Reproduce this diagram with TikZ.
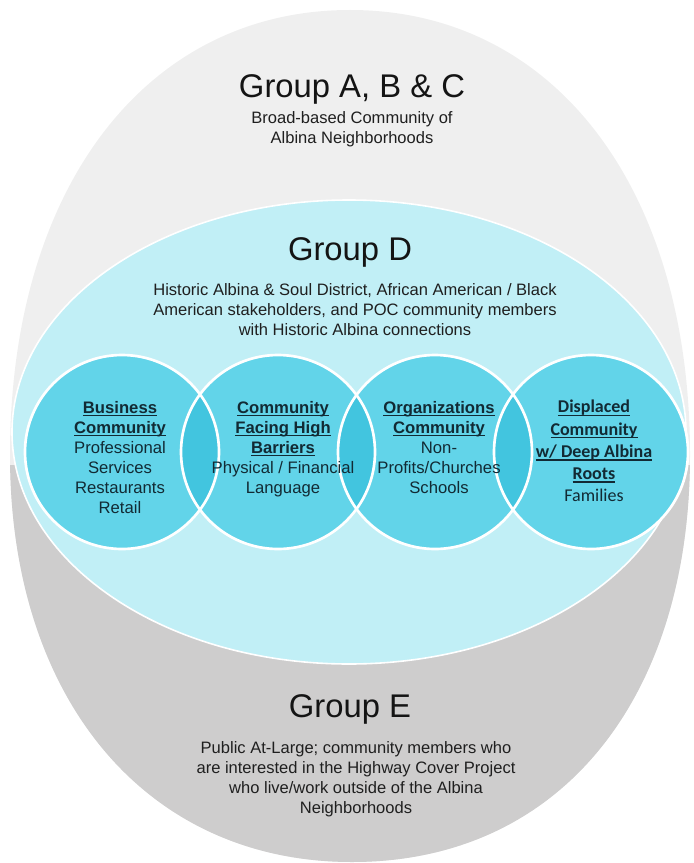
\documentclass[tikz,border=0pt]{standalone}
\usepackage{fontspec}
\setmainfont{Liberation Sans}
\newfontfamily\calfont{Carlito}
\newcommand\ulword[1]{\setbox0\hbox{#1}\rlap{\rule[-2.3pt]{\wd0}{1pt}}\box0}
\definecolor{eggtop}{RGB}{239,239,239}
\definecolor{eggbot}{RGB}{206,205,205}
\definecolor{groupd}{RGB}{193,239,246}
\definecolor{circfill}{RGB}{98,212,233}
\definecolor{circover}{RGB}{66,197,223}
\definecolor{circtext}{RGB}{18,42,52}

\begin{document}
\begin{tikzpicture}[x=0.75pt,y=-0.75pt,
    grouptitle/.style={font=\fontsize{24.6}{28}\selectfont,text=black!92,anchor=base,inner sep=0pt},
    groupblurb/.style={font=\fontsize{12.4}{15}\selectfont,text=black!88,align=center,anchor=north,inner sep=0pt},
    circblurb/.style={font=\fontsize{12.5}{15}\selectfont,text=circtext,align=center,anchor=north,inner sep=0pt}]
  \useasboundingbox (0,0) rectangle (693,863);
  % outer egg, light top and darker bottom
  \fill[eggtop] (10,455) .. controls (10,188) and (146,10) .. (350,10)
      .. controls (554,10) and (690,188) .. (690,455)
      .. controls (690,699) and (560,862) .. (352,862)
      .. controls (146,862) and (10,699) .. (10,455) -- cycle;
  \begin{scope}
    \clip (10,455) .. controls (10,699) and (146,862) .. (352,862)
        .. controls (560,862) and (690,699) .. (690,455) -- cycle;
    \fill[eggbot] (0,465) rectangle (693,863);
  \end{scope}
  % group D
  \coordinate (dmid) at (349,432);
  \fill[groupd] (dmid) ellipse [x radius=337,y radius=232];
  \draw[white,line width=1.2pt] (dmid) ellipse [x radius=337,y radius=232];
  % four circles
  \foreach \cx [count=\i] in {122,278,435,591}
    \coordinate (c\i) at (\cx,452);
  \foreach \i in {1,...,4}
    \fill[circfill] (c\i) circle (97);
  \foreach \a/\b in {1/2,2/3,3/4}{
    \begin{scope}
      \clip (c\a) circle (97);
      \fill[circover] (c\b) circle (97);
    \end{scope}
  }
  \foreach \i in {1,...,4}
    \draw[white,line width=2pt] (c\i) circle (97);

  % texts
  \node[grouptitle] (abc) at (352,98) {Group A, B \& C};
  \node[groupblurb] (abctext) at (352,111) {Broad-based Community of\\Albina Neighborhoods};
  \node[grouptitle] (d) at (350,260) {Group D};
  \node[groupblurb] (dtext) at (355,283) {Historic Albina \& Soul District, African American / Black\\American stakeholders, and POC community members\\with Historic Albina connections};
  \node[circblurb] (business) at (120,401) {\textbf{\ulword{Business}}\\\textbf{\ulword{Community}}\\Professional\\Services\\Restaurants\\Retail};
  \node[circblurb] (barriers) at (283,401) {\textbf{\ulword{Community}}\\\textbf{\ulword{Facing High}}\\\textbf{\ulword{Barriers}}\\Physical / Financial\\Language};
  \node[circblurb] (orgs) at (439,401) {\textbf{\ulword{Organizations}}\\\textbf{\ulword{Community}}\\Non-\\Profits/Churches\\Schools};
  \node[circblurb,font=\calfont\fontsize{13.5}{16.7}\selectfont] (displaced) at (594,400) {\textbf{\ulword{Displaced}}\\\textbf{\ulword{Community}}\\\textbf{\ulword{w/ Deep Albina}}\\\textbf{\ulword{Roots}}\\Families};
  \node[grouptitle] (e) at (350,717) {Group E};
  \node[groupblurb] (etext) at (356,741) {Public At-Large; community members who\\are interested in the Highway Cover Project\\who live/work outside of the Albina\\Neighborhoods};
\end{tikzpicture}
\end{document}
